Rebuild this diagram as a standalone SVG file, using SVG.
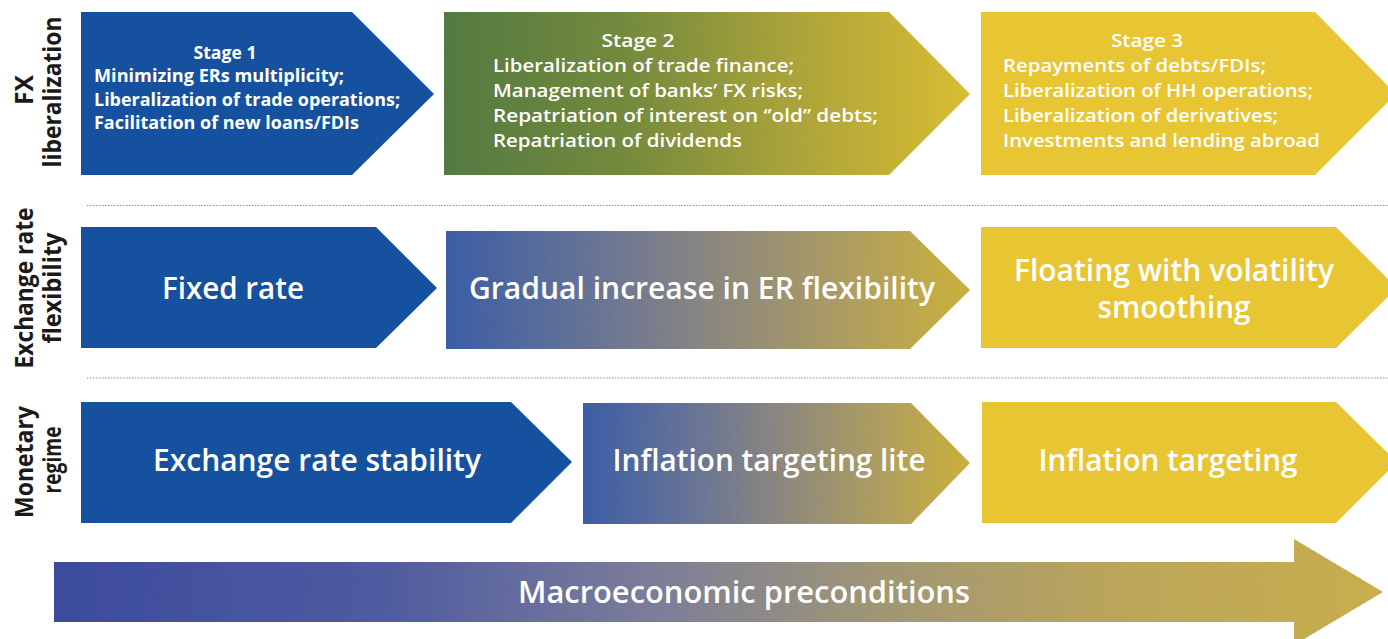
<svg xmlns="http://www.w3.org/2000/svg" width="1388" height="639" viewBox="0 0 1388 639">
<defs>
<linearGradient id="gStage2" x1="0" y1="0" x2="1" y2="0">
<stop offset="0" stop-color="#537A40"/>
<stop offset="0.35" stop-color="#748A3D"/>
<stop offset="0.65" stop-color="#A9A23A"/>
<stop offset="1" stop-color="#D9BC33"/>
</linearGradient>
<linearGradient id="gMid" x1="0" y1="0" x2="1" y2="0">
<stop offset="0" stop-color="#3B5DA6"/>
<stop offset="0.3" stop-color="#6A7595"/>
<stop offset="0.5" stop-color="#8A8680"/>
<stop offset="0.75" stop-color="#AC9C62"/>
<stop offset="1" stop-color="#CBB03C"/>
</linearGradient>
<linearGradient id="gMacro" x1="0" y1="0" x2="1" y2="0">
<stop offset="0" stop-color="#3C4B9D"/>
<stop offset="0.25" stop-color="#4F5BA0"/>
<stop offset="0.45" stop-color="#7B7D9A"/>
<stop offset="0.62" stop-color="#A09675"/>
<stop offset="0.8" stop-color="#BBA55A"/>
<stop offset="1" stop-color="#C9AE4C"/>
</linearGradient>
<filter id="grain" x="0" y="0" width="1" height="1">
<feTurbulence type="fractalNoise" baseFrequency="0.9" numOctaves="2" seed="3" result="n"/>
<feColorMatrix in="n" type="matrix" values="0 0 0 0 0.5  0 0 0 0 0.5  0 0 0 0 0.5  0 0 0 0.25 0" result="g"/>
<feComposite in="g" in2="SourceGraphic" operator="in" result="gi"/>
<feBlend in="SourceGraphic" in2="gi" mode="overlay"/>
</filter>
</defs>
<style>
.blue{fill:#15519E}
.yellow{fill:#E8C533}
.lbl{font-family:"Open Sans","Noto Sans",sans-serif;font-weight:700;fill:#1A1A1A;font-size:25px;text-anchor:middle}
.big{font-family:"Open Sans","Noto Sans",sans-serif;font-weight:600;fill:#FFFFFF;font-size:30px;text-anchor:middle}
.st{font-family:"Open Sans","Noto Sans",sans-serif;font-weight:600;fill:#FFFFFF;font-size:18px}
.st1{font-family:"Open Sans","Noto Sans",sans-serif;font-weight:700;fill:#FFFFFF;font-size:17px}
.sep{stroke:#7F8CC0;stroke-width:1.2;stroke-dasharray:1.5 1.5;fill:none}
</style>

<g id="labels">
<text class="lbl" transform="translate(33,90) rotate(-90)" textLength="30" lengthAdjust="spacingAndGlyphs">FX</text>
<text class="lbl" transform="translate(61,92) rotate(-90)" textLength="151" lengthAdjust="spacingAndGlyphs">liberalization</text>
<text class="lbl" transform="translate(33,288) rotate(-90)" textLength="161" lengthAdjust="spacingAndGlyphs">Exchange rate</text>
<text class="lbl" transform="translate(61,288) rotate(-90)" textLength="111" lengthAdjust="spacingAndGlyphs">flexibility</text>
<text class="lbl" transform="translate(33,462) rotate(-90)" textLength="112" lengthAdjust="spacingAndGlyphs">Monetary</text>
<text class="lbl" transform="translate(61,460) rotate(-90)" textLength="67" lengthAdjust="spacingAndGlyphs">regime</text>
</g>

<g id="separators">
<line class="sep" x1="87" y1="205.5" x2="1388" y2="205.5"/>
<line class="sep" x1="87" y1="378" x2="1388" y2="378"/>
</g>

<g id="stage1">
<polygon class="blue" points="81,12 352,12 434,94 352,175 81,175"/>
<text class="st1" x="225" y="59" text-anchor="middle" textLength="63" lengthAdjust="spacingAndGlyphs">Stage 1</text>
<text class="st1" x="94" y="82" textLength="250" lengthAdjust="spacingAndGlyphs">Minimizing ERs multiplicity;</text>
<text class="st1" x="94" y="106" textLength="306" lengthAdjust="spacingAndGlyphs">Liberalization of trade operations;</text>
<text class="st1" x="94" y="129" textLength="265" lengthAdjust="spacingAndGlyphs">Facilitation of new loans/FDIs</text>
</g>

<g id="stage2">
<polygon fill="url(#gStage2)" filter="url(#grain)" points="444,12 889,12 970,94 889,175 444,175"/>
<text class="st" x="638" y="47" text-anchor="middle" textLength="73" lengthAdjust="spacingAndGlyphs">Stage 2</text>
<text class="st" x="493" y="72" textLength="301" lengthAdjust="spacingAndGlyphs">Liberalization of trade finance;</text>
<text class="st" x="493" y="97" textLength="310" lengthAdjust="spacingAndGlyphs">Management of banks’ FX risks;</text>
<text class="st" x="493" y="122" textLength="385" lengthAdjust="spacingAndGlyphs">Repatriation of interest on ‘’old’’ debts;</text>
<text class="st" x="493" y="147" textLength="249" lengthAdjust="spacingAndGlyphs">Repatriation of dividends</text>
</g>

<g id="stage3">
<polygon class="yellow" points="981,12 1315,12 1396,94 1315,175 981,175"/>
<text class="st" x="1147" y="47" text-anchor="middle" textLength="72" lengthAdjust="spacingAndGlyphs">Stage 3</text>
<text class="st" x="1003" y="72" textLength="263" lengthAdjust="spacingAndGlyphs">Repayments of debts/FDIs;</text>
<text class="st" x="1003" y="97" textLength="310" lengthAdjust="spacingAndGlyphs">Liberalization of HH operations;</text>
<text class="st" x="1003" y="122" textLength="275" lengthAdjust="spacingAndGlyphs">Liberalization of derivatives;</text>
<text class="st" x="1003" y="147" textLength="317" lengthAdjust="spacingAndGlyphs">Investments and lending abroad</text>
</g>

<g id="fixed-rate">
<polygon class="blue" points="81,227 376,227 437,288 376,348 81,348"/>
<text class="big" x="233" y="299" textLength="142" lengthAdjust="spacingAndGlyphs">Fixed rate</text>
</g>

<g id="gradual">
<polygon fill="url(#gMid)" filter="url(#grain)" points="446,231 910,231 970,290 910,349 446,349"/>
<text class="big" x="702" y="299" textLength="466" lengthAdjust="spacingAndGlyphs">Gradual increase in ER flexibility</text>
</g>

<g id="floating">
<polygon class="yellow" points="981,227 1336,227 1397,288 1336,348 981,348"/>
<text class="big" x="1174" y="281" textLength="320" lengthAdjust="spacingAndGlyphs">Floating with volatility</text>
<text class="big" x="1174" y="318" textLength="153" lengthAdjust="spacingAndGlyphs">smoothing</text>
</g>

<g id="er-stability">
<polygon class="blue" points="81,402 511,402 572,462 511,523 81,523"/>
<text class="big" x="317" y="471" textLength="328" lengthAdjust="spacingAndGlyphs">Exchange rate stability</text>
</g>

<g id="it-lite">
<polygon fill="url(#gMid)" filter="url(#grain)" points="583,403 911,403 970,463 911,524 583,524"/>
<text class="big" x="769" y="471" textLength="313" lengthAdjust="spacingAndGlyphs">Inflation targeting lite</text>
</g>

<g id="it">
<polygon class="yellow" points="982,402 1336,402 1397,462 1336,523 982,523"/>
<text class="big" x="1168" y="471" textLength="259" lengthAdjust="spacingAndGlyphs">Inflation targeting</text>
</g>

<g id="macro">
<polygon fill="url(#gMacro)" filter="url(#grain)" points="54,562 1294,562 1294,539 1383,592 1294,645 1294,622 54,622"/>
<text class="big" x="744" y="603" textLength="452" lengthAdjust="spacingAndGlyphs">Macroeconomic preconditions</text>
</g>
</svg>
